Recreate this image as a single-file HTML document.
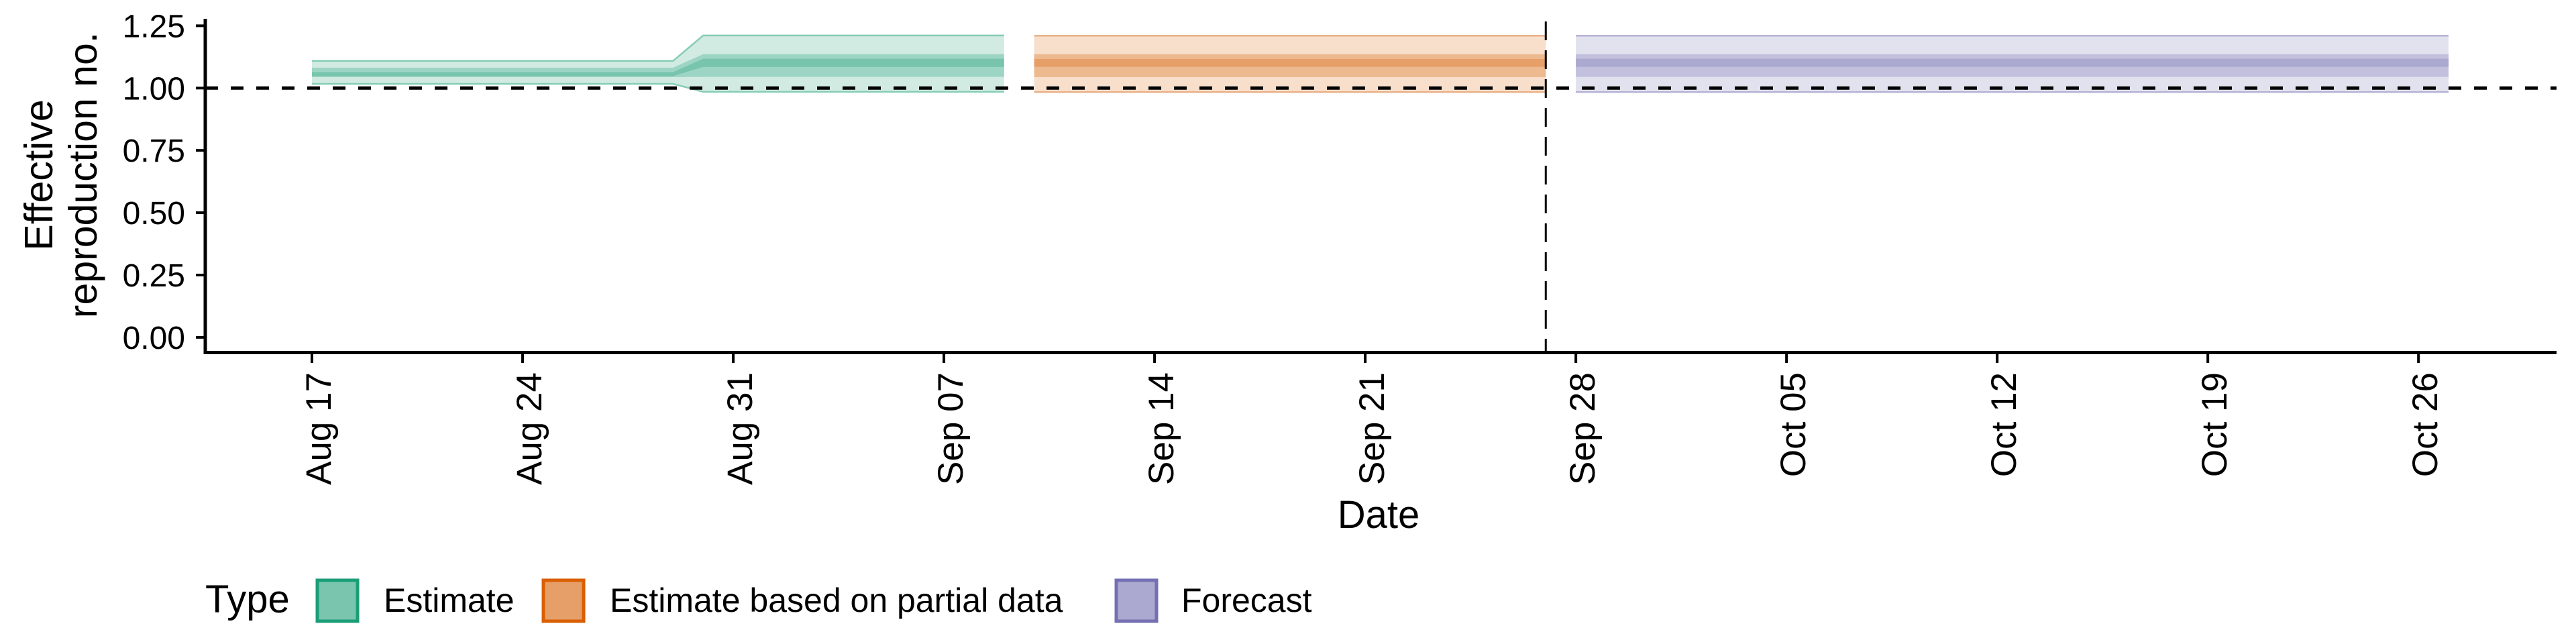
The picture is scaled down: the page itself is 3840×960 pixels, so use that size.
<!DOCTYPE html>
<html><head><meta charset="utf-8"><style>
html,body{margin:0;padding:0;background:#fff;}
svg{display:block;font-family:"Liberation Sans",sans-serif;}
</style></head><body>
<svg id="chart" width="3840" height="960" viewBox="0 0 3840 960">
<g id="bands"></g>
<g id="axes"></g>
</svg>
<script>
// ---- data ----
const estDates = ['2020-08-17','2020-08-29','2020-08-30','2020-09-09'];
const estLower90 = [1.017,1.017,0.985,0.985];
const estUpper90 = [1.109,1.109,1.211,1.211];
const estLower50 = [1.044,1.044,1.045,1.045];
const estUpper50 = [1.082,1.082,1.136,1.136];
const estLower20 = [1.048,1.048,1.085,1.085];
const estUpper20 = [1.064,1.064,1.118,1.118];

const partDates = ['2020-09-10','2020-09-27'];
const partLower90 = [0.984,0.984];
const partUpper90 = [1.21,1.21];
const partLower50 = [1.044,1.044];
const partUpper50 = [1.136,1.136];
const partLower20 = [1.085,1.085];
const partUpper20 = [1.117,1.117];

const fcDates = ['2020-09-28','2020-10-27'];
const fcLower90 = [0.984,0.984];
const fcUpper90 = [1.21,1.21];
const fcLower50 = [1.045,1.045];
const fcUpper50 = [1.136,1.136];
const fcLower20 = [1.085,1.085];
const fcUpper20 = [1.118,1.118];

const yTicks = [0, 0.25, 0.5, 0.75, 1.0, 1.25];
const yTickLabels = ['0.00','0.25','0.50','0.75','1.00','1.25'];
const xTickDates = ['2020-08-17','2020-08-24','2020-08-31','2020-09-07','2020-09-14','2020-09-21','2020-09-28','2020-10-05','2020-10-12','2020-10-19','2020-10-26'];
const xTickLabels = ['Aug 17','Aug 24','Aug 31','Sep 07','Sep 14','Sep 21','Sep 28','Oct 05','Oct 12','Oct 19','Oct 26'];
const forecastCutDate = '2020-09-27';
const refValue = 1.0;

// ---- scales ----
const NS='http://www.w3.org/2000/svg';
const D0 = Date.parse('2020-08-17');
function x(d){ return 465 + (Date.parse(d)-D0)/86400000*44.86; }
function y(v){ return 502.9 - v*371.6; }
function mk(tag, attrs, parent){ const e=document.createElementNS(NS,tag); for(const k in attrs) e.setAttribute(k,attrs[k]); parent.appendChild(e); return e; }

const bands=document.getElementById('bands');
const axes=document.getElementById('axes');

function area(dates, lo, hi, fill, parent){
  let pts=[];
  for(let i=0;i<dates.length;i++) pts.push(x(dates[i])+','+y(hi[i]));
  for(let i=dates.length-1;i>=0;i--) pts.push(x(dates[i])+','+y(lo[i]));
  return mk('polygon',{points:pts.join(' '),fill:fill},parent);
}
function edge(dates, vals, stroke, parent){
  const pts=dates.map((d,i)=>x(d)+','+y(vals[i]));
  return mk('polyline',{points:pts.join(' '),fill:'none',stroke:stroke,'stroke-width':2.5},parent);
}
function series(name, dates, l90,u90,l50,u50,l20,u20, cols){
  const g=mk('g',{},bands);
  
  
  const a=area(dates,l90,u90,cols[0],g);
  
  
  const b=area(dates,l50,u50,cols[1],g);
  
  
  const c=area(dates,l20,u20,cols[2],g);
  
  
  const e1=edge(dates,u90,cols[3],g);
  
  
  const e2=edge(dates,l90,cols[3],g);
  
  
}
series('estimate', estDates, estLower90,estUpper90,estLower50,estUpper50,estLower20,estUpper20, ['#d2ebe2','#9dd5c4','#78c4ad','#86cdb5']);
series('partial-estimate', partDates, partLower90,partUpper90,partLower50,partUpper50,partLower20,partUpper20, ['#f7dfcc','#edba90','#e69f69','#eab28a']);
series('forecast', fcDates, fcLower90,fcUpper90,fcLower50,fcUpper50,fcLower20,fcUpper20, ['#e2e2ee','#c3c0dd','#aba9cf','#b6b3d6']);

// reference lines
const hl=mk('line',{x1:306,x2:3811,y1:y(refValue),y2:y(refValue),stroke:'#000','stroke-width':5,'stroke-dasharray':'19 19'},axes);


const vl=mk('line',{x1:x(forecastCutDate),x2:x(forecastCutDate),y1:32,y2:526,stroke:'#000','stroke-width':3,'stroke-dasharray':'28 15'},axes);



// axes
const ya=mk('line',{x1:306,x2:306,y1:28,y2:528,stroke:'#000','stroke-width':5},axes);


const xa=mk('line',{x1:304,x2:3811,y1:525.5,y2:525.5,stroke:'#000','stroke-width':5},axes);



yTicks.forEach((v,i)=>{
  const t=mk('line',{x1:292,x2:306,y1:y(v),y2:y(v),stroke:'#000','stroke-width':4},axes);
  
  
  const l=mk('text',{x:276,y:y(v)+17,'text-anchor':'end','font-size':48,fill:'#000'},axes);
  l.textContent=yTickLabels[i];
  
  
});
xTickDates.forEach((d,i)=>{
  const xx=x(d);
  const t=mk('line',{x1:xx,x2:xx,y1:526,y2:541,stroke:'#000','stroke-width':4},axes);
  
  
  const l=mk('text',{x:0,y:0,'text-anchor':'end','font-size':53,fill:'#000',transform:'translate('+(xx+28)+',555) rotate(-90)'},axes);
  l.textContent=xTickLabels[i];
  
  
});

// titles
const xt=mk('text',{x:2055,y:787,'text-anchor':'middle','font-size':58,fill:'#000'},axes);
xt.textContent='Date';


const yt=mk('text',{x:0,y:0,'text-anchor':'middle','font-size':59,fill:'#000',transform:'translate(78,261) rotate(-90)'},axes);


const s1=mk('tspan',{x:0,dy:0},yt); s1.textContent='Effective';
const s2=mk('tspan',{x:0,dy:66},yt); s2.textContent='reproduction no.';

// legend
const lg=mk('g',{},axes);


const lt=mk('text',{x:306,y:913,'font-size':58,fill:'#000'},lg);
lt.textContent='Type';


const legItems=[['Estimate',473,'#7ac5ae','#1b9e77',572,'legend-entry-estimate'],
 ['Estimate based on partial data',810,'#e69f69','#d95f02',909,'legend-entry-partial'],
 ['Forecast',1664,'#aba9cf','#7570b3',1761,'legend-entry-forecast']];
legItems.forEach(it=>{
  const g=mk('g',{},lg);
  
  
  mk('rect',{x:it[1],y:865,width:60,height:61,fill:it[2],stroke:it[3],'stroke-width':5},g);
  const t=mk('text',{x:it[4],y:912,'font-size':50,fill:'#000'},g);
  t.textContent=it[0];
});
</script>
</body></html>
